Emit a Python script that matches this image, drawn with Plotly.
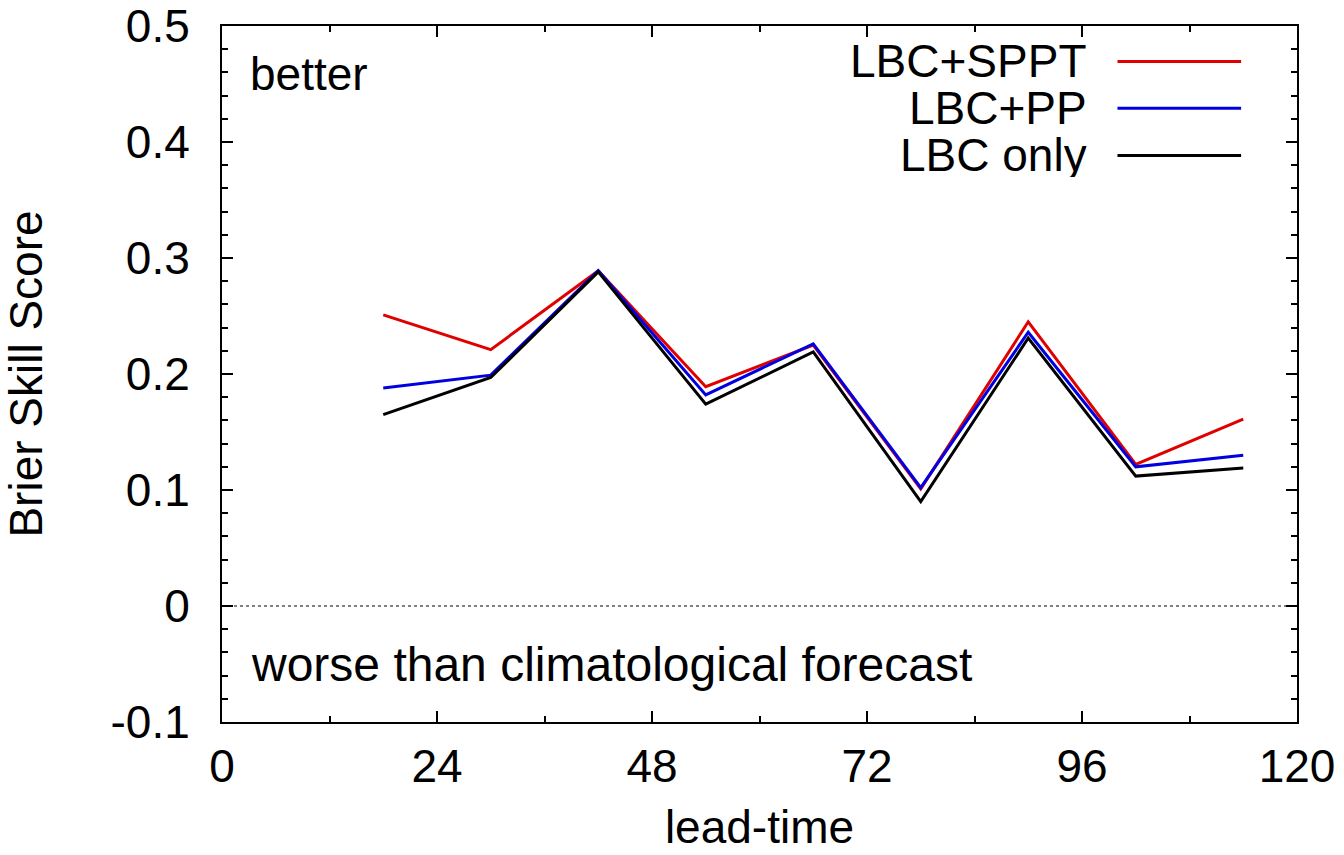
import plotly.graph_objects as go

lead_time = [18, 30, 42, 54, 66, 78, 90, 102, 114]
lbc_sppt = [0.251, 0.221, 0.289, 0.189, 0.225, 0.101, 0.245, 0.122, 0.161]
lbc_pp = [0.188, 0.199, 0.289, 0.182, 0.226, 0.102, 0.236, 0.120, 0.130]
lbc_only = [0.165, 0.197, 0.288, 0.174, 0.219, 0.090, 0.231, 0.112, 0.119]

series = [("LBC+SPPT", lbc_sppt, "#e00000"),
          ("LBC+PP", lbc_pp, "#0000e0"),
          ("LBC only", lbc_only, "#000000")]

x_ticks = [0, 24, 48, 72, 96, 120]
y_ticks = [-0.1, 0, 0.1, 0.2, 0.3, 0.4, 0.5]
y_ticklabels = ["-0.1", "0", "0.1", "0.2", "0.3", "0.4", "0.5"]

FONT = "Liberation Sans, Arial, sans-serif"
FS = 46

fig = go.Figure()
for name, vals, col in series:
    fig.add_trace(go.Scatter(x=lead_time, y=vals, mode="lines", name=name,
                             line=dict(color=col, width=3), showlegend=False))

# zero line
fig.add_shape(type="line", xref="x", yref="y", x0=0, x1=120, y0=0, y1=0,
              line=dict(color="black", width=1, dash="dot"), layer="below")

# manual gnuplot-style legend (text left of sample line)
leg_y = [0.949, 0.882, 0.814]
for (name, vals, col), yy in zip(series, leg_y):
    fig.add_annotation(xref="paper", yref="paper", x=0.806, y=yy, text=name,
                       showarrow=False, xanchor="right", yanchor="middle",
                       height=44, borderpad=0,
                       font=dict(family=FONT, size=FS, color="black"))
    fig.add_shape(type="line", xref="paper", yref="paper", x0=0.833, x1=0.948,
                  y0=yy, y1=yy, line=dict(color=col, width=3))

fig.add_annotation(xref="paper", yref="paper", x=0.024, y=0.931, text="better",
                   showarrow=False, xanchor="left", yanchor="middle",
                   font=dict(family=FONT, size=FS, color="black"))
fig.add_annotation(xref="paper", yref="paper", x=0.025, y=0.083,
                   text="worse than climatological forecast",
                   showarrow=False, xanchor="left", yanchor="middle",
                   font=dict(family=FONT, size=48, color="black"))

axis_common = dict(showgrid=False, zeroline=False, showline=True, linecolor="black",
                   linewidth=2, mirror="allticks", ticks="inside", ticklen=11,
                   tickwidth=1.5, tickcolor="black", automargin=False,
                   tickfont=dict(family=FONT, size=FS, color="black"))

fig.update_xaxes(range=[0, 120], tickvals=x_ticks, ticktext=[str(v) for v in x_ticks],
                 minor=dict(dtick=12, ticks="inside", ticklen=6, tickcolor="black", tickwidth=1.5),
                 title=dict(text="lead-time", font=dict(family=FONT, size=FS, color="black"), standoff=20),
                 ticklabelstandoff=3, **axis_common)
fig.update_yaxes(range=[-0.1, 0.5], tickvals=y_ticks, ticktext=y_ticklabels,
                 minor=dict(dtick=0.02, ticks="inside", ticklen=6, tickcolor="black", tickwidth=1.5),
                 title=dict(text="Brier Skill Score", font=dict(family=FONT, size=FS, color="black"), standoff=60),
                 ticklabelstandoff=21, **axis_common)

fig.update_layout(width=1344, height=855, paper_bgcolor="white", plot_bgcolor="white",
                  margin=dict(l=222, r=47, t=26, b=133), showlegend=False)

fig.write_html("out.html")
